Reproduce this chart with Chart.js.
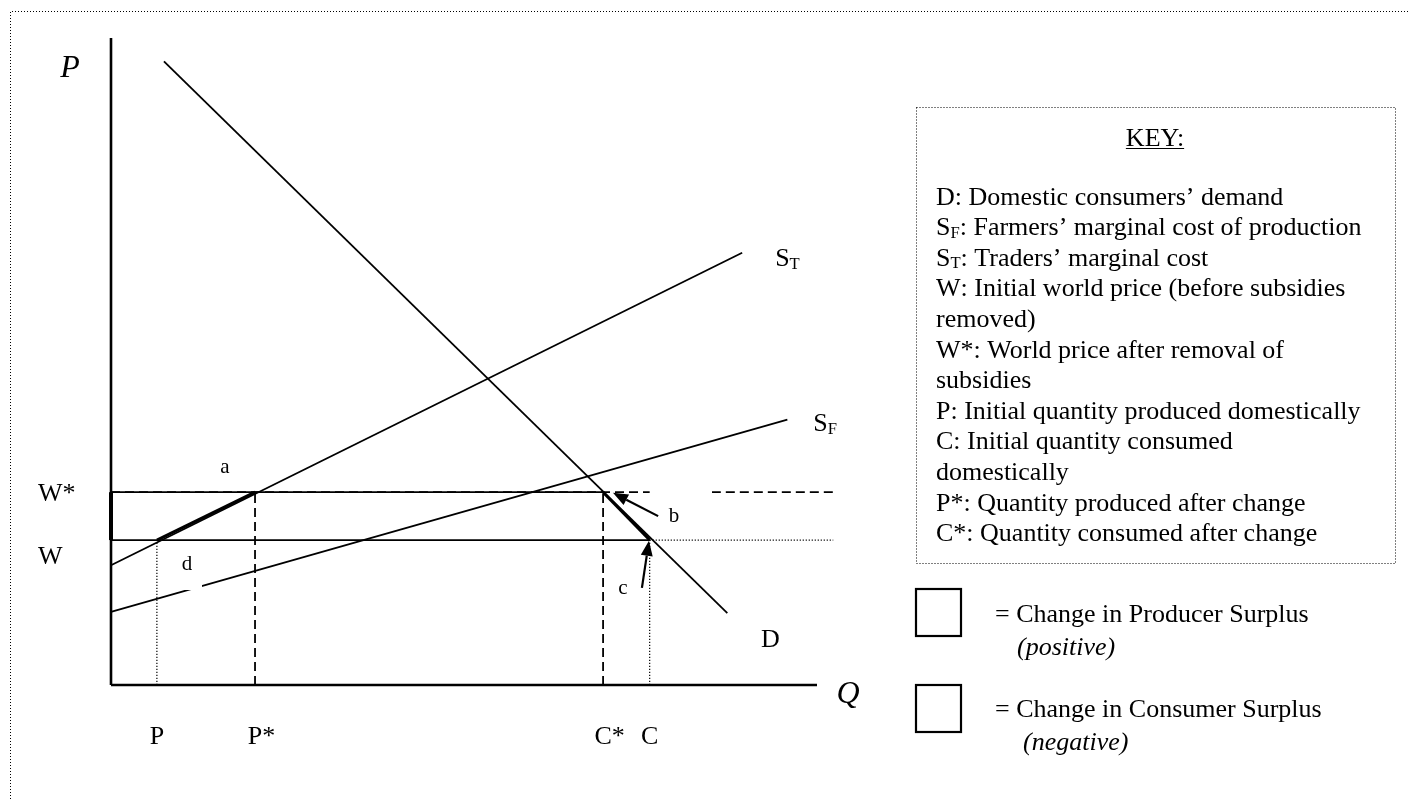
<!DOCTYPE html>
<html lang="en">
  <head>
    <meta charset="UTF-8" />
    <title>Removal of subsidies: world price change</title>
    <script src="https://cdn.jsdelivr.net/npm/chart.js"></script>
    <style>
      body { margin: 0; background: #fff; }
    </style>
  </head>
  <body>
    <canvas id="diagram" width="1409" height="799"></canvas>
    <script>
      // quantities on the Q axis and prices on the P axis (axis runs 0..100)
      const qLabels = ["P", "P*", "C*", "C"];
      const qValues = [6.5, 20.4, 69.7, 76.3];
      const pLabels = ["W*", "W"];
      const pValues = [29.8, 22.4];

      // curves
      const demandQ = [7.5, 87.3];
      const demandP = [96.4, 11.1];
      const tradersQ = [0, 89.4];
      const tradersP = [18.5, 66.8];
      const farmersQ = [0, 95.8];
      const farmersP = [11.3, 41.0];

      // price lines run past the end of the Q axis
      const priceLineEnd = 102.3;
      const wStarDashGap = 85.1;

      // arrows pointing at the small triangles b and c: [tailQ, tailP, tipQ, tipP]
      const arrowB = [77.5, 26.1, 71.1, 29.7];
      const arrowC = [75.2, 15.0, 76.2, 22.3];

      const keyLines = [
        ["D", "", ": Domestic consumers\u2019 demand"],
        ["S", "F", ": Farmers\u2019 marginal cost of production"],
        ["S", "T", ": Traders\u2019 marginal cost"],
        ["W", "", ": Initial world price (before subsidies"],
        ["removed)", "", ""],
        ["W*", "", ": World price after removal of"],
        ["subsidies", "", ""],
        ["P", "", ": Initial quantity produced domestically"],
        ["C", "", ": Initial quantity consumed"],
        ["domestically", "", ""],
        ["P*", "", ": Quantity produced after change"],
        ["C*", "", ": Quantity consumed after change"],
      ];

      const [qP, qPs, qCs, qC] = qValues;
      const [wStar, w] = pValues;

      function pts(xs, ys) {
        return xs.map((q, i) => ({ x: q, y: ys[i] }));
      }

      function seg(points, width, dash) {
        return {
          data: points,
          showLine: true,
          borderColor: "#000",
          borderWidth: width,
          borderDash: dash || [],
          pointRadius: 0,
          clip: false,
        };
      }

      const DASH = [9, 5];
      const DOT = [1.2, 1.8];

      const datasets = [
        // axes
        seg([{ x: 0, y: 0 }, { x: 0, y: 100 }], 2.6),
        seg([{ x: 0, y: 0 }, { x: 100, y: 0 }], 2.6),
        // W* line
        seg([{ x: 0, y: wStar }, { x: qCs, y: wStar }], 1.8),
        seg([{ x: 0, y: wStar }, { x: qC, y: wStar }], 1.8, DASH),
        seg([{ x: wStarDashGap, y: wStar }, { x: priceLineEnd, y: wStar }], 1.8, DASH),
        // W line
        seg([{ x: 0, y: w }, { x: qC, y: w }], 1.8),
        seg([{ x: qC, y: w }, { x: priceLineEnd, y: w }], 1.2, DOT),
        // drop lines
        seg([{ x: qP, y: 0 }, { x: qP, y: w }], 1.2, DOT),
        seg([{ x: qPs, y: 0 }, { x: qPs, y: wStar }], 1.8, DASH),
        seg([{ x: qCs, y: 0 }, { x: qCs, y: wStar }], 1.8, DASH),
        seg([{ x: qC, y: 0 }, { x: qC, y: w }], 1.2, DOT),
        // curves
        seg(pts(demandQ, demandP), 1.8),
        seg(pts(tradersQ, tradersP), 1.8),
        seg(pts(farmersQ, farmersP), 1.8),
        // heavy edges of the producer / consumer surplus areas
        seg([{ x: 0, y: w }, { x: 0, y: wStar }], 4),
        seg([{ x: qCs, y: wStar }, { x: qC, y: w }], 3),
        seg([{ x: qP, y: w }, { x: qPs, y: wStar }], 3),
        { ...seg([{ x: qP, y: w }, { x: qPs, y: wStar }], 0.8), borderColor: "#fff" },
      ];

      const SERIF = '"Liberation Serif", "Times New Roman", serif';

      function text(ctx, s, x, y, size, opts = {}) {
        ctx.font = (opts.italic ? "italic " : "") + size + "px " + SERIF;
        ctx.textAlign = opts.align || "left";
        ctx.textBaseline = "alphabetic";
        ctx.fillStyle = "#000";
        ctx.fillText(s, x, y + size * 0.33);
        return ctx.measureText(s).width;
      }

      // letter with a subscript, e.g. S with F below
      function subText(ctx, main, sub, rest, x, y, size) {
        let dx = text(ctx, main, x, y, size);
        if (sub) dx += text(ctx, sub, x + dx, y + size * 0.22, size * 0.64);
        if (rest) text(ctx, rest, x + dx, y, size);
      }

      function arrow(ctx, x0, y0, x1, y1) {
        const a = Math.atan2(y1 - y0, x1 - x0);
        const len = 15, half = 6;
        const bx = x1 - len * Math.cos(a), by = y1 - len * Math.sin(a);
        ctx.strokeStyle = "#000";
        ctx.lineWidth = 2.2;
        ctx.setLineDash([]);
        ctx.beginPath();
        ctx.moveTo(x0, y0);
        ctx.lineTo(bx, by);
        ctx.stroke();
        ctx.beginPath();
        ctx.moveTo(x1, y1);
        ctx.lineTo(bx - half * Math.sin(a), by + half * Math.cos(a));
        ctx.lineTo(bx + half * Math.sin(a), by - half * Math.cos(a));
        ctx.closePath();
        ctx.fill();
      }

      const diagramText = {
        id: "diagramText",
        afterDatasetsDraw(chart) {
          const { ctx, scales } = chart;
          const px = (v) => scales.x.getPixelForValue(v);
          const py = (v) => scales.y.getPixelForValue(v);
          const bottom = py(0);
          ctx.save();

          // white label boxes cut through the lines behind them
          ctx.fillStyle = "#fff";
          ctx.fillRect(168, 546, 34, 44);
          ctx.fillRect(651, 484, 61, 46);

          ctx.fillStyle = "#000";
          arrow(ctx, px(arrowB[0]), py(arrowB[1]), px(arrowB[2]), py(arrowB[3]));
          arrow(ctx, px(arrowC[0]), py(arrowC[1]), px(arrowC[2]), py(arrowC[3]));

          // axis titles
          text(ctx, "P", 70, 66, 32, { italic: true, align: "center" });
          text(ctx, "Q", px(100) + 31, bottom + 7, 32, { italic: true, align: "center" });

          // price ticks on the left
          text(ctx, pLabels[0], 38, py(wStar), 26);
          text(ctx, pLabels[1], 38, py(w) + 15, 26);

          // quantity ticks under the axis, letter centred on the value
          qLabels.forEach((lab, i) => {
            ctx.font = "26px " + SERIF;
            const first = ctx.measureText(lab[0]).width;
            text(ctx, lab, px(qValues[i]) - first / 2, bottom + 50, 26);
          });

          // curve names
          text(ctx, "D", px(demandQ[1]) + 43, py(demandP[1]) + 25, 26, { align: "center" });
          subText(ctx, "S", "T", "", px(tradersQ[1]) + 33, py(tradersP[1]) + 5, 26);
          subText(ctx, "S", "F", "", px(farmersQ[1]) + 26, py(farmersP[1]) + 3, 26);

          // area letters
          text(ctx, "a", 225, 466, 21, { align: "center" });
          text(ctx, "d", 187, 563, 21, { align: "center" });
          text(ctx, "b", 674, 515, 21, { align: "center" });
          text(ctx, "c", 623, 587, 21, { align: "center" });

          // page border
          ctx.strokeStyle = "#000";
          ctx.lineWidth = 1;
          ctx.setLineDash([1, 2]);
          ctx.beginPath();
          ctx.moveTo(10.5, 799);
          ctx.lineTo(10.5, 11.5);
          ctx.lineTo(1409, 11.5);
          ctx.stroke();

          // key box
          ctx.strokeRect(916.5, 107.5, 479, 456);
          ctx.setLineDash([]);
          const kw = text(ctx, "KEY:", 1155, 137, 26, { align: "center" });
          ctx.beginPath();
          ctx.moveTo(1155 - kw / 2, 148.5);
          ctx.lineTo(1155 + kw / 2, 148.5);
          ctx.stroke();
          keyLines.forEach((ln, i) => {
            subText(ctx, ln[0], ln[1], ln[2], 936, 196 + i * 30.6, 26);
          });

          // surplus swatches
          ctx.lineWidth = 2.2;
          ctx.strokeRect(916, 589, 45, 47);
          ctx.strokeRect(916, 685, 45, 47);
          text(ctx, "= Change in Producer Surplus", 995, 613, 26);
          text(ctx, "(positive)", 1017, 646, 26, { italic: true });
          text(ctx, "= Change in Consumer Surplus", 995, 708, 26);
          text(ctx, "(negative)", 1023, 741, 26, { italic: true });

          ctx.restore();
        },
      };

      new Chart(document.getElementById("diagram"), {
        type: "scatter",
        data: { datasets },
        options: {
          responsive: false,
          animation: false,
          layout: { padding: { left: 111, top: 38, right: 592, bottom: 114 } },
          scales: {
            x: { type: "linear", min: 0, max: 100, display: false },
            y: { type: "linear", min: 0, max: 100, display: false },
          },
          plugins: { legend: { display: false }, tooltip: { enabled: false } },
        },
        plugins: [diagramText],
      });
    </script>
  </body>
</html>
